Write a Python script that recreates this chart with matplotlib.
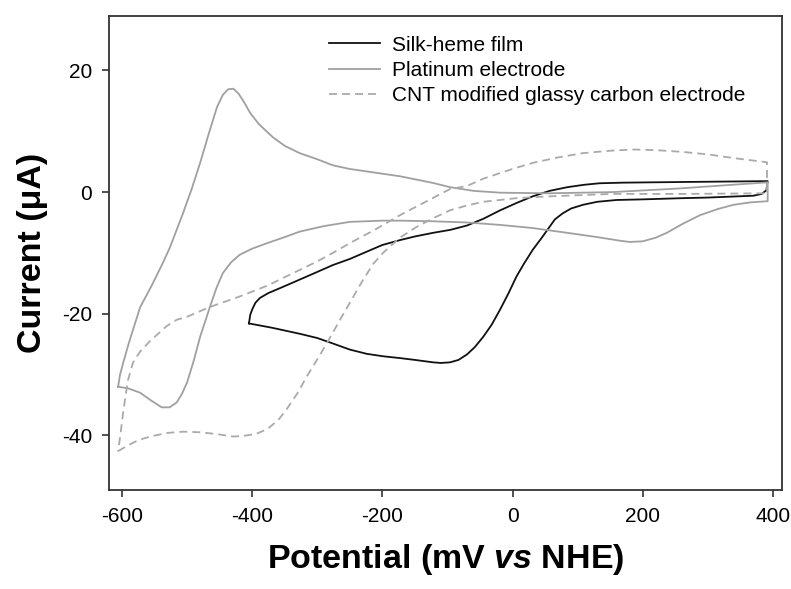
import matplotlib
matplotlib.use("Agg")
import matplotlib.pyplot as plt

plt.rcParams['font.family'] = ['Liberation Sans', 'DejaVu Sans']
plt.rcParams['axes.unicode_minus'] = False
plt.rcParams['mathtext.fontset'] = 'custom'
plt.rcParams['mathtext.it'] = 'Liberation Sans:bold:italic'
plt.rcParams['mathtext.rm'] = 'Liberation Sans:bold'

# Silk-heme film (closed loop, potential in mV, current in uA)
silk_x = [-405, -403, -400, -395, -388, -375, -353, -310, -276, -250, -224, -200, -173, -150, -122, -95, -70, -45, -19, 6, 31,
          57, 84, 110, 134, 170, 211, 300, 392,
          390, 383, 370, 300, 262, 200, 160, 130, 108, 90, 77, 65, 57, 45, 31, 18, 6, -6, -19, -32, -45, -58, -70, -83,
          -96, -110, -122, -150, -173, -199, -224, -250, -276, -300, -327, -370, -405]
silk_y = [-21.6, -20.2, -19.3, -18.2, -17.4, -16.6, -15.6, -13.6, -12.0, -11.0, -9.8, -8.7, -7.9, -7.3, -6.7, -6.2, -5.5, -4.4, -3.0, -1.8, -0.7,
          0.2, 0.8, 1.2, 1.45, 1.55, 1.6, 1.7, 1.8,
          0.3, -0.3, -0.6, -0.9, -1.0, -1.2, -1.3, -1.6, -2.1, -2.7, -3.5, -4.5, -5.7, -7.5, -9.5, -11.7, -13.9, -16.6, -19.3, -21.8, -23.8, -25.5, -26.7, -27.6,
          -28.0, -28.1, -28.0, -27.6, -27.3, -27.0, -26.6, -25.9, -24.9, -24.0, -23.3, -22.3, -21.6]

# Platinum electrode
pt_x = [-606, -590, -572, -555, -539, -527, -516, -508, -500, -490, -480, -465, -455, -445, -432, -419, -400, -377, -350, -327,
        -290, -250, -200, -173, -122, -70, -19, 30, 84, 130, 165, 180, 200, 220, 237, 260, 288, 315, 339, 365, 392,
        392, 257, 154, 57, -19, -60, -96, -122, -173, -250, -276, -300, -327, -350, -368, -390, -403, -412, -421, -429,
        -437, -445, -454, -467, -480, -493, -506, -526, -537, -555, -572, -583, -590, -598, -603, -606]
pt_y = [-32.0, -32.3, -33.0, -34.3, -35.4, -35.4, -34.6, -33.2, -31.3, -27.8, -23.8, -18.9, -15.8, -13.3, -11.5, -10.3, -9.3, -8.4, -7.4, -6.5,
        -5.6, -4.9, -4.7, -4.7, -4.8, -5.0, -5.4, -5.9, -6.7, -7.4, -8.0, -8.2, -8.1, -7.5, -6.7, -5.3, -3.8, -2.8, -2.1, -1.7, -1.5,
        1.6, 0.6, 0.0, -0.2, -0.1, 0.2, 0.8, 1.5, 2.6, 3.8, 4.4, 5.4, 6.4, 7.6, 9.0, 11.2, 13.0, 14.7, 16.2, 17.0,
        16.9, 16.0, 14.0, 9.5, 4.8, 0.5, -3.4, -9.0, -11.6, -15.5, -18.9, -22.6, -25.0, -28.0, -30.0, -32.0]

# CNT modified glassy carbon electrode
cnt_x = [-606, -590, -575, -557, -530, -506, -480, -454, -430, -414, -395, -377, -360, -347, -330, -316, -300, -285, -265, -250,
         -230, -214, -199, -173, -147, -120, -96, -70, -45, 6, 57, 154, 260, 391,
         391, 339, 300, 262, 220, 185, 150, 108, 70, 31, 0, -45, -70, -96, -130, -173, -210, -250, -276, -300, -327, -350,
         -377, -420, -465, -500, -516, -531, -557, -572, -583, -591, -598, -602, -606]
cnt_y = [-42.6, -41.6, -40.8, -40.2, -39.6, -39.4, -39.5, -39.8, -40.2, -40.1, -39.8, -39.0, -37.5, -35.7, -33.0, -30.3, -27.5, -24.8, -21.0, -18.2,
         -14.5, -11.8, -10.0, -7.5, -5.7, -4.2, -3.0, -2.2, -1.6, -1.0, -0.7, -0.3, -0.3, -0.2,
         4.9, 5.6, 6.2, 6.6, 6.9, 7.0, 6.8, 6.4, 5.7, 4.8, 3.8, 2.2, 1.0, 0.5, -1.4, -3.8, -6.1, -8.4, -10.0, -11.4, -12.8, -14.0,
         -15.4, -17.2, -18.9, -20.5, -21.0, -22.0, -24.5, -26.2, -28.0, -31.0, -36.0, -39.5, -42.6]

fig = plt.figure(figsize=(7.91, 5.89), dpi=100)
ax = fig.add_axes([0.1378, 0.168, 0.8508, 0.8053])

ax.plot(silk_x, silk_y, color='#111111', lw=1.3, label='Silk-heme film')
ax.plot(pt_x, pt_y, color='#a0a0a0', lw=1.3, label='Platinum electrode')
ax.plot(cnt_x, cnt_y, color='#aaaaaa', lw=1.3, ls=(0, (4.4, 2.8)), label='CNT modified glassy carbon electrode')

ax.set_xlim(-620, 414)
ax.set_ylim(-49, 29)
ax.set_xticks([-600, -400, -200, 0, 200, 400])
ax.set_yticks([-40, -20, 0, 20])
ax.tick_params(direction='out', length=5, width=1.2, labelsize=15, pad=7, color='#333333')
for s in ax.spines.values():
    s.set_linewidth(1.3)
    s.set_color('#333333')

ax.set_xlabel('Potential (mV $\\mathit{vs}$ NHE)', fontsize=24.5, fontweight='bold', labelpad=12)
ax.set_ylabel('Current (μA)', fontsize=24.5, fontweight='bold', labelpad=10)

ax.legend(loc='upper left', bbox_to_anchor=(0.403, 0.957), bbox_transform=fig.transFigure,
          frameon=False, fontsize=15, handlelength=2.45, labelspacing=0.3, handletextpad=0.55, borderpad=0)

fig.savefig('out.png', dpi=100)
